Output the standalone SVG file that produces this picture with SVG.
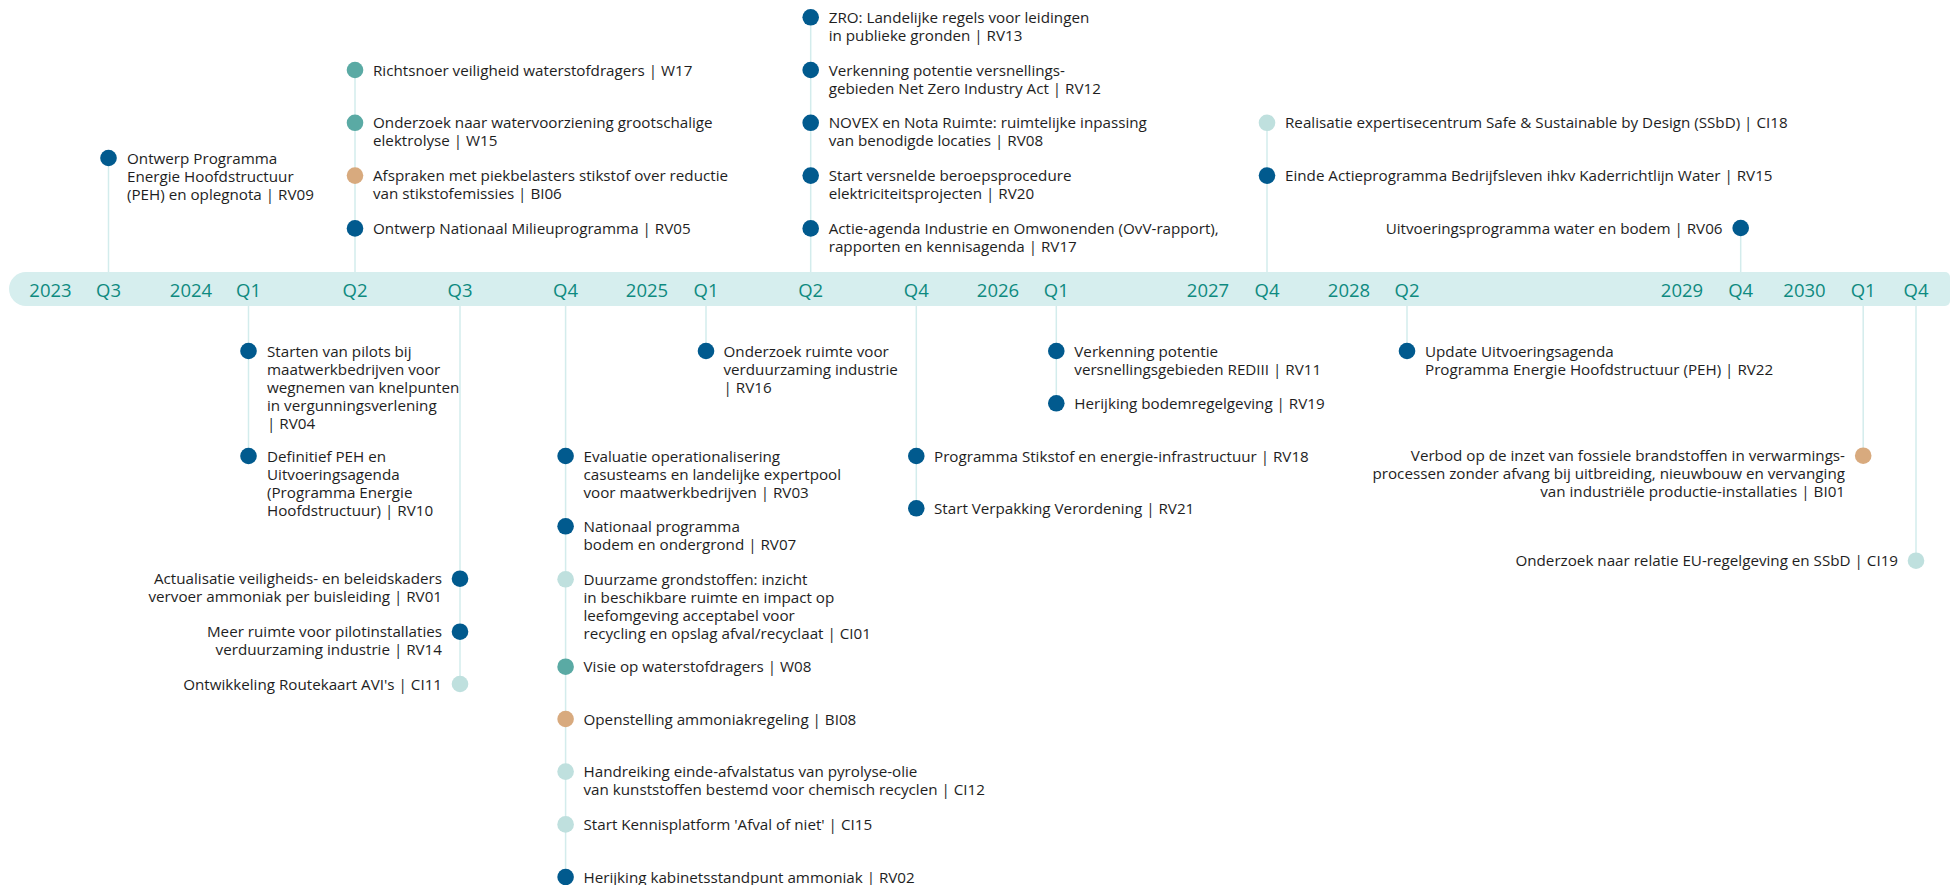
<svg xmlns="http://www.w3.org/2000/svg" width="1951" height="885" viewBox="0 0 1951 885">
<style>
text{font-family:"Open Sans","Noto Sans","Liberation Sans",sans-serif;}
.t{font-size:15.2px;fill:#1e1e1e;}
.e{text-anchor:end;}
.lb{font-size:18.5px;fill:#0e8a80;text-anchor:middle;}
.stem{stroke:#d3ecec;stroke-width:1.5;fill:none;}
circle{r:8.3px;}
.rv{fill:#015a8e;}
.w{fill:#5aaaa4;}
.bi{fill:#d8aa7e;}
.ci{fill:#bfe0de;}
</style>
<rect width="1951" height="885" fill="#ffffff"/>
<g id="connectors">
<line class="stem" x1="108.5" y1="158" x2="108.5" y2="273"/>
<line class="stem" x1="355" y1="70" x2="355" y2="273"/>
<line class="stem" x1="810.7" y1="17.3" x2="810.7" y2="273"/>
<line class="stem" x1="1267" y1="122.7" x2="1267" y2="273"/>
<line class="stem" x1="1740.7" y1="228" x2="1740.7" y2="273"/>
<line class="stem" x1="248.5" y1="305" x2="248.5" y2="456"/>
<line class="stem" x1="460" y1="305" x2="460" y2="684"/>
<line class="stem" x1="565.6" y1="305" x2="565.6" y2="877"/>
<line class="stem" x1="706" y1="305" x2="706" y2="351"/>
<line class="stem" x1="916.3" y1="305" x2="916.3" y2="508"/>
<line class="stem" x1="1056.3" y1="305" x2="1056.3" y2="403.3"/>
<line class="stem" x1="1407" y1="305" x2="1407" y2="351"/>
<line class="stem" x1="1863.2" y1="305" x2="1863.2" y2="455.7"/>
<line class="stem" x1="1916" y1="305" x2="1916" y2="560.7"/>
</g>
<g id="timeline">
<path d="M26,272 H1945 a5,5 0 0 1 5,5 V301 a5,5 0 0 1 -5,5 H26 a17,17 0 0 1 0,-34 Z" fill="#d6eeee"/>
<text class="lb" x="50.5" y="297">2023</text>
<text class="lb" x="108.5" y="297">Q3</text>
<text class="lb" x="191" y="297">2024</text>
<text class="lb" x="248.5" y="297">Q1</text>
<text class="lb" x="355" y="297">Q2</text>
<text class="lb" x="460" y="297">Q3</text>
<text class="lb" x="565.6" y="297">Q4</text>
<text class="lb" x="647" y="297">2025</text>
<text class="lb" x="706" y="297">Q1</text>
<text class="lb" x="810.7" y="297">Q2</text>
<text class="lb" x="916.3" y="297">Q4</text>
<text class="lb" x="998" y="297">2026</text>
<text class="lb" x="1056.3" y="297">Q1</text>
<text class="lb" x="1208" y="297">2027</text>
<text class="lb" x="1267" y="297">Q4</text>
<text class="lb" x="1349" y="297">2028</text>
<text class="lb" x="1407" y="297">Q2</text>
<text class="lb" x="1682" y="297">2029</text>
<text class="lb" x="1740.7" y="297">Q4</text>
<text class="lb" x="1804.5" y="297">2030</text>
<text class="lb" x="1863.2" y="297">Q1</text>
<text class="lb" x="1916" y="297">Q4</text>
</g>
<g id="RV09"><circle class="rv" cx="108.5" cy="158" r="8.3"/><text class="t" x="127" y="163.5"><tspan x="127">Ontwerp Programma</tspan><tspan x="127" dy="18">Energie Hoofdstructuur</tspan><tspan x="127" dy="18">(PEH) en oplegnota | RV09</tspan></text></g>
<g id="W17"><circle class="w" cx="355" cy="70" r="8.3"/><text class="t" x="373" y="75.5">Richtsnoer veiligheid waterstofdragers | W17</text></g>
<g id="W15"><circle class="w" cx="355" cy="122.8" r="8.3"/><text class="t" y="128.3"><tspan x="373">Onderzoek naar watervoorziening grootschalige</tspan><tspan x="373" dy="18">elektrolyse | W15</tspan></text></g>
<g id="BI06"><circle class="bi" cx="355" cy="175.6" r="8.3"/><text class="t" y="181.1"><tspan x="373">Afspraken met piekbelasters stikstof over reductie</tspan><tspan x="373" dy="18">van stikstofemissies | BI06</tspan></text></g>
<g id="RV05"><circle class="rv" cx="355" cy="228.4" r="8.3"/><text class="t" x="373" y="233.9">Ontwerp Nationaal Milieuprogramma | RV05</text></g>
<g id="RV13"><circle class="rv" cx="810.7" cy="17.3" r="8.3"/><text class="t" y="22.8"><tspan x="828.7">ZRO: Landelijke regels voor leidingen</tspan><tspan x="828.7" dy="18">in publieke gronden | RV13</tspan></text></g>
<g id="RV12"><circle class="rv" cx="810.7" cy="70" r="8.3"/><text class="t" y="75.5"><tspan x="828.7">Verkenning potentie versnellings-</tspan><tspan x="828.7" dy="18">gebieden Net Zero Industry Act | RV12</tspan></text></g>
<g id="RV08"><circle class="rv" cx="810.7" cy="122.8" r="8.3"/><text class="t" y="128.3"><tspan x="828.7">NOVEX en Nota Ruimte: ruimtelijke inpassing</tspan><tspan x="828.7" dy="18">van benodigde locaties | RV08</tspan></text></g>
<g id="RV20"><circle class="rv" cx="810.7" cy="175.6" r="8.3"/><text class="t" y="181.1"><tspan x="828.7">Start versnelde beroepsprocedure</tspan><tspan x="828.7" dy="18">elektriciteitsprojecten | RV20</tspan></text></g>
<g id="RV17"><circle class="rv" cx="810.7" cy="228.4" r="8.3"/><text class="t" y="233.9"><tspan x="828.7">Actie-agenda Industrie en Omwonenden (OvV-rapport),</tspan><tspan x="828.7" dy="18">rapporten en kennisagenda | RV17</tspan></text></g>
<g id="CI18"><circle class="ci" cx="1267" cy="122.8" r="8.3"/><text class="t" x="1285" y="128.3">Realisatie expertisecentrum Safe &amp; Sustainable by Design (SSbD) | CI18</text></g>
<g id="RV15"><circle class="rv" cx="1267" cy="175.6" r="8.3"/><text class="t" x="1285" y="181.1">Einde Actieprogramma Bedrijfsleven ihkv Kaderrichtlijn Water | RV15</text></g>
<g id="RV06"><circle class="rv" cx="1740.7" cy="228" r="8.3"/><text class="t e" x="1722.5" y="233.5">Uitvoeringsprogramma water en bodem | RV06</text></g>
<g id="RV04"><circle class="rv" cx="248.5" cy="351" r="8.3"/><text class="t" y="356.5"><tspan x="267">Starten van pilots bij</tspan><tspan x="267" dy="18">maatwerkbedrijven voor</tspan><tspan x="267" dy="18">wegnemen van knelpunten</tspan><tspan x="267" dy="18">in vergunningsverlening</tspan><tspan x="267" dy="18">| RV04</tspan></text></g>
<g id="RV10"><circle class="rv" cx="248.5" cy="456" r="8.3"/><text class="t" y="461.5"><tspan x="267">Definitief PEH en</tspan><tspan x="267" dy="18">Uitvoeringsagenda</tspan><tspan x="267" dy="18">(Programma Energie</tspan><tspan x="267" dy="18">Hoofdstructuur) | RV10</tspan></text></g>
<g id="RV01"><circle class="rv" cx="460" cy="578.7" r="8.3"/><text class="t e" y="584.2"><tspan x="442">Actualisatie veiligheids- en beleidskaders</tspan><tspan x="442" dy="18">vervoer ammoniak per buisleiding | RV01</tspan></text></g>
<g id="RV14"><circle class="rv" cx="460" cy="631.7" r="8.3"/><text class="t e" y="637.2"><tspan x="442">Meer ruimte voor pilotinstallaties</tspan><tspan x="442" dy="18">verduurzaming industrie | RV14</tspan></text></g>
<g id="CI11"><circle class="ci" cx="460" cy="684" r="8.3"/><text class="t e" x="442" y="689.5">Ontwikkeling Routekaart AVI's | CI11</text></g>
<g id="RV03"><circle class="rv" cx="565.6" cy="456" r="8.3"/><text class="t" y="461.5"><tspan x="583.5">Evaluatie operationalisering</tspan><tspan x="583.5" dy="18">casusteams en landelijke expertpool</tspan><tspan x="583.5" dy="18">voor maatwerkbedrijven | RV03</tspan></text></g>
<g id="RV07"><circle class="rv" cx="565.6" cy="526.3" r="8.3"/><text class="t" y="531.8"><tspan x="583.5">Nationaal programma</tspan><tspan x="583.5" dy="18">bodem en ondergrond | RV07</tspan></text></g>
<g id="CI01"><circle class="ci" cx="565.6" cy="579.3" r="8.3"/><text class="t" y="584.8"><tspan x="583.5">Duurzame grondstoffen: inzicht</tspan><tspan x="583.5" dy="18">in beschikbare ruimte en impact op</tspan><tspan x="583.5" dy="18">leefomgeving acceptabel voor</tspan><tspan x="583.5" dy="18">recycling en opslag afval/recyclaat | CI01</tspan></text></g>
<g id="W08"><circle class="w" cx="565.6" cy="666.7" r="8.3"/><text class="t" x="583.5" y="672.2">Visie op waterstofdragers | W08</text></g>
<g id="BI08"><circle class="bi" cx="565.6" cy="719" r="8.3"/><text class="t" x="583.5" y="724.5">Openstelling ammoniakregeling | BI08</text></g>
<g id="CI12"><circle class="ci" cx="565.6" cy="771.6" r="8.3"/><text class="t" y="777.1"><tspan x="583.5">Handreiking einde-afvalstatus van pyrolyse-olie</tspan><tspan x="583.5" dy="18">van kunststoffen bestemd voor chemisch recyclen | CI12</tspan></text></g>
<g id="CI15"><circle class="ci" cx="565.6" cy="824.4" r="8.3"/><text class="t" x="583.5" y="829.9">Start Kennisplatform 'Afval of niet' | CI15</text></g>
<g id="RV02"><circle class="rv" cx="565.6" cy="877" r="8.3"/><text class="t" x="583.5" y="882.5">Herijking kabinetsstandpunt ammoniak | RV02</text></g>
<g id="RV16"><circle class="rv" cx="706" cy="351" r="8.3"/><text class="t" y="356.5"><tspan x="723.5">Onderzoek ruimte voor</tspan><tspan x="723.5" dy="18">verduurzaming industrie</tspan><tspan x="723.5" dy="18">| RV16</tspan></text></g>
<g id="RV18"><circle class="rv" cx="916.3" cy="456" r="8.3"/><text class="t" x="934" y="461.5">Programma Stikstof en energie-infrastructuur | RV18</text></g>
<g id="RV21"><circle class="rv" cx="916.3" cy="508.3" r="8.3"/><text class="t" x="934" y="513.8">Start Verpakking Verordening | RV21</text></g>
<g id="RV11"><circle class="rv" cx="1056.3" cy="351" r="8.3"/><text class="t" y="356.5"><tspan x="1074.3">Verkenning potentie</tspan><tspan x="1074.3" dy="18">versnellingsgebieden REDIII | RV11</tspan></text></g>
<g id="RV19"><circle class="rv" cx="1056.3" cy="403.3" r="8.3"/><text class="t" x="1074.3" y="408.8">Herijking bodemregelgeving | RV19</text></g>
<g id="RV22"><circle class="rv" cx="1407" cy="351" r="8.3"/><text class="t" y="356.5"><tspan x="1425">Update Uitvoeringsagenda</tspan><tspan x="1425" dy="18">Programma Energie Hoofdstructuur (PEH) | RV22</tspan></text></g>
<g id="BI01"><circle class="bi" cx="1863.2" cy="455.7" r="8.3"/><text class="t e" y="461.2"><tspan x="1845">Verbod op de inzet van fossiele brandstoffen in verwarmings-</tspan><tspan x="1845" dy="18">processen zonder afvang bij uitbreiding, nieuwbouw en vervanging</tspan><tspan x="1845" dy="18">van industriële productie-installaties | BI01</tspan></text></g>
<g id="CI19"><circle class="ci" cx="1916" cy="560.7" r="8.3"/><text class="t e" x="1898" y="566.2">Onderzoek naar relatie EU-regelgeving en SSbD | CI19</text></g>
</svg>
